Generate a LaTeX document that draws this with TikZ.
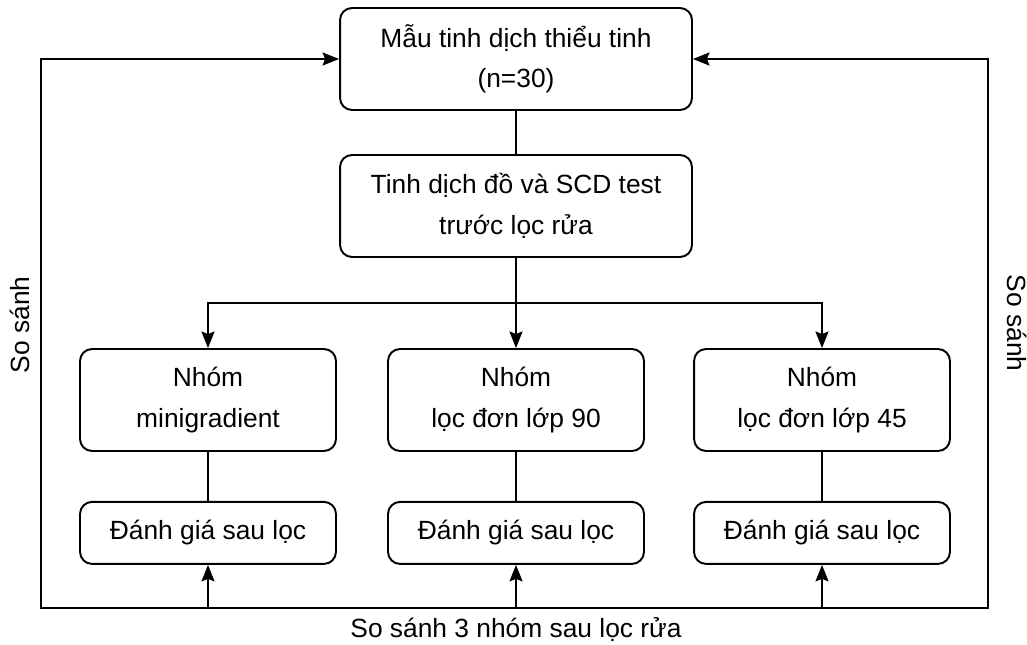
\documentclass[tikz,border=0pt]{standalone}
\usepackage{fontspec}
\setmainfont{Liberation Sans}
\usetikzlibrary{arrows.meta}
\usetikzlibrary{positioning}

\tikzset{
  khung/.style={draw, line width=1.1pt, rounded corners=0.24cm, align=center,
    inner sep=0pt, font=\fontsize{15}{23}\selectfont},
  khungto/.style={khung, minimum width=7.04cm, minimum height=2.04cm},
  nhom/.style={khung, minimum width=5.12cm, minimum height=2.04cm},
  danhgia/.style={khung, minimum width=5.12cm, minimum height=1.24cm},
  noi/.style={line width=1.1pt},
  mui/.style={noi, -{Stealth[length=3.3mm,width=2.6mm,inset=0.5mm]}},
  nhan/.style={font=\fontsize{15}{18}\selectfont, inner sep=0pt}
}

\begin{document}
\begin{tikzpicture}[x=0.02cm, y=-0.02cm]

  % Khung anh
  \useasboundingbox (0,0) rectangle (1027,645);

  % Cac khung tren
  \node[khungto] (mau) at (516,59) {Mẫu tinh dịch thiểu tinh\\(n=30)};
  \node[khungto] (tdd) at (516,206) {Tinh dịch đồ và SCD test\\trước lọc rửa};

  % Ba nhom
  \node[nhom] (nhomA) at (208,400) {Nhóm\\minigradient};
  \node[nhom] (nhomB) at (516,400) {Nhóm\\lọc đơn lớp 90};
  \node[nhom] (nhomC) at (822,400) {Nhóm\\lọc đơn lớp 45};

  % Danh gia sau loc
  \node[danhgia, below=0.98cm of nhomA] (dgA) {Đánh giá sau lọc};
  \node[danhgia, below=0.98cm of nhomB] (dgB) {Đánh giá sau lọc};
  \node[danhgia, below=0.98cm of nhomC] (dgC) {Đánh giá sau lọc};

  % Diem re nhanh
  \coordinate (re) at (516,303);
  \coordinate (traiduoi) at (41,608);
  \coordinate (phaiduoi) at (988,608);

  % Duong noi
  \draw[noi] (mau) -- (tdd);
  \draw[mui] (tdd) -- (nhomB);
  \draw[mui] (re) -| (nhomA);
  \draw[mui] (re) -| (nhomC);
  \draw[noi] (nhomA) -- (dgA);
  \draw[noi] (nhomB) -- (dgB);
  \draw[noi] (nhomC) -- (dgC);

  % So sanh
  \draw[mui] (phaiduoi) -- (traiduoi) |- (mau);
  \draw[mui] (traiduoi) -- (phaiduoi) |- (mau);
  \draw[mui] (traiduoi -| dgA) -- (dgA);
  \draw[mui] (traiduoi -| dgB) -- (dgB);
  \draw[mui] (traiduoi -| dgC) -- (dgC);

  % Nhan
  \node[nhan, rotate=90] (ssTrai) at (20,325) {So sánh};
  \node[nhan, rotate=-90] (ssPhai) at (1017,323) {So sánh};
  \node[nhan] (ssDuoi) at (516,630) {So sánh 3 nhóm sau lọc rửa};

\end{tikzpicture}
\end{document}
